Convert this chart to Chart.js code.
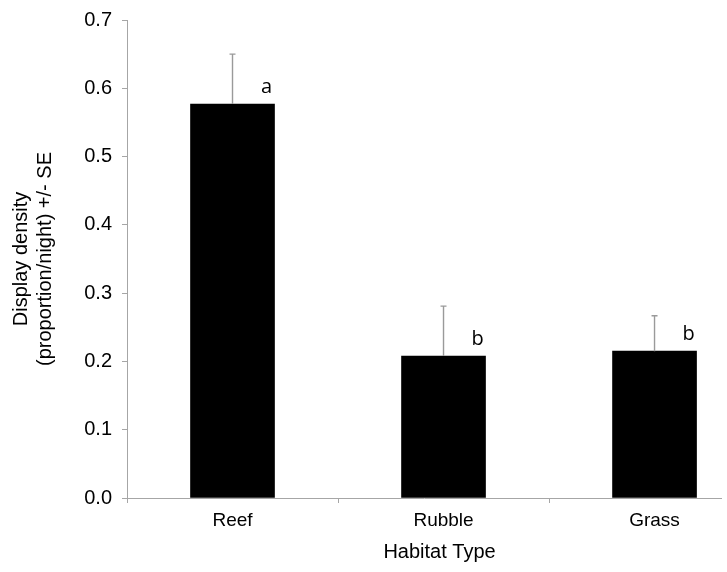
<!DOCTYPE html>
<html>
<head>
<meta charset="utf-8">
<script src="https://cdn.jsdelivr.net/npm/chart.js@4.4.1/dist/chart.umd.min.js"></script>
<style>
  html, body { margin: 0; padding: 0; background: #fff; overflow: hidden; }
  #wrap { width: 727px; height: 572px; }
</style>
</head>
<body>
<div id="wrap"><canvas id="myChart"></canvas></div>
<script>
// data
const categories = ['Reef', 'Rubble', 'Grass'];
const means = [0.577, 0.208, 0.215];
const se = [0.073, 0.073, 0.052];
const letters = ['a', 'b', 'b'];
const xTickPositions = [-0.5, 0, 0.5, 1, 1.5, 2];

const axisGrey = '#a6a6a6';
const errGrey = '#9a9a9a';

// error bars (upper only) + significance letters + x title
const extras = {
    id: 'extras',
    afterDatasetsDraw(chart) {
        const ctx = chart.ctx;
        const xs = chart.scales.x;
        const ys = chart.scales.y;
        ctx.save();
        ctx.strokeStyle = errGrey;
        ctx.lineWidth = 1.4;
        for (let i = 0; i < means.length; i++) {
            const x = xs.getPixelForValue(i);
            const yb = ys.getPixelForValue(means[i]);
            const yt = ys.getPixelForValue(means[i] + se[i]);
            ctx.beginPath();
            ctx.moveTo(x, yb);
            ctx.lineTo(x, yt);
            ctx.moveTo(x - 3, yt);
            ctx.lineTo(x + 3, yt);
            ctx.stroke();
        }
        ctx.fillStyle = '#000';
        ctx.font = '20px "Open Sans"';
        ctx.textAlign = 'center';
        ctx.textBaseline = 'alphabetic';
        for (let i = 0; i < letters.length; i++) {
            const x = xs.getPixelForValue(i) + 34;
            const y = ys.getPixelForValue(means[i]) - 11;
            ctx.fillText(letters[i], x, y);
        }
        // x axis title, centred on the full category range
        ctx.font = '20px "Liberation Sans"';
        ctx.textBaseline = 'middle';
        const xc = (xs.getPixelForValue(-0.5) + xs.getPixelForValue(2.5)) / 2;
        ctx.fillText('Habitat Type', xc - 4, 552);
        ctx.restore();
    }
};

const ctx = document.getElementById('myChart').getContext('2d');
const chart = new Chart(ctx, {
    type: 'bar',
    data: {
        datasets: [{
            label: 'Display density',
            data: categories.map((c, i) => ({ x: i, y: means[i] })),
            backgroundColor: '#000',
            borderWidth: 0,
            barThickness: 84
        }]
    },
    plugins: [extras],
    options: {
        responsive: true,
        maintainAspectRatio: false,
        animation: false,
        layout: { padding: { left: 0, top: 19, right: 6, bottom: 0 } },
        plugins: {
            legend: { display: false },
            tooltip: { enabled: false }
        },
        scales: {
            x: {
                type: 'linear',
                min: -0.5,
                max: 2.315,
                offset: false,
                afterBuildTicks: function (scale) {
                    scale.ticks = xTickPositions.map(v => ({ value: v }));
                },
                afterFit: function (scale) { scale.height = 74; },
                ticks: {
                    autoSkip: false,
                    maxRotation: 0,
                    padding: 6,
                    color: '#000',
                    font: { family: 'Liberation Sans', size: 19 },
                    callback: function (value) {
                        return Number.isInteger(value) ? categories[value] : '';
                    }
                },
                grid: {
                    offset: false,
                    drawOnChartArea: false,
                    tickLength: 5,
                    tickColor: function (c) {
                        if (!c.tick) return axisGrey;
                        return Number.isInteger(c.tick.value) ? 'rgba(0,0,0,0)' : axisGrey;
                    }
                },
                border: { color: axisGrey, width: 1 }
            },
            y: {
                min: 0,
                max: 0.7,
                afterFit: function (scale) { scale.width = 127; },
                ticks: {
                    stepSize: 0.1,
                    padding: 10,
                    color: '#000',
                    font: { family: 'Liberation Sans', size: 20, lineHeight: 1 },
                    callback: function (value) { return value.toFixed(1); }
                },
                grid: {
                    drawOnChartArea: false,
                    tickLength: 5,
                    tickColor: axisGrey
                },
                border: { color: axisGrey, width: 1 },
                title: {
                    display: true,
                    text: ['Display density', '(proportion/night) +/- SE'],
                    color: '#000',
                    font: { family: 'Liberation Sans', size: 20, lineHeight: 1.2 },
                    padding: { top: 9, bottom: 0 }
                }
            }
        }
    }
});
</script>
</body>
</html>
